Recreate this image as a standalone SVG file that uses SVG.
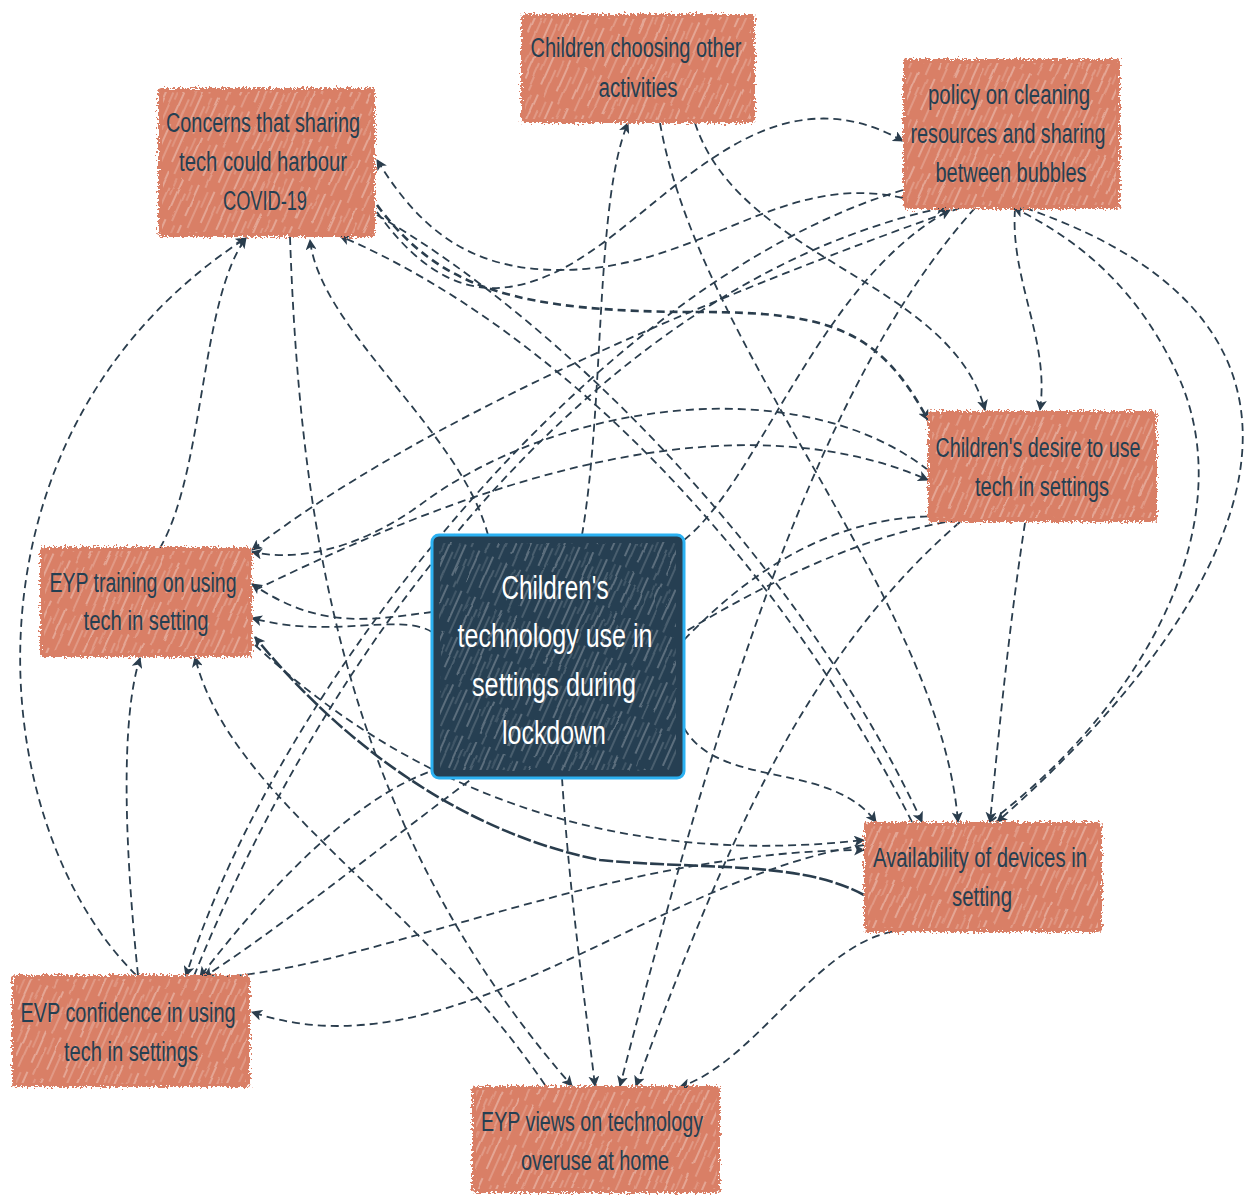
<svg xmlns="http://www.w3.org/2000/svg" width="1250" height="1195" viewBox="0 0 1250 1195">
<defs>
  <filter id="rough" x="-5%" y="-5%" width="110%" height="110%">
    <feTurbulence type="fractalNoise" baseFrequency="0.45" numOctaves="2" seed="4" result="n"/>
    <feDisplacementMap in="SourceGraphic" in2="n" scale="9" xChannelSelector="R" yChannelSelector="G"/>
  </filter>
  <filter id="wob" x="-5%" y="-5%" width="110%" height="110%">
    <feTurbulence type="fractalNoise" baseFrequency="0.04" numOctaves="1" seed="7" result="n"/>
    <feDisplacementMap in="SourceGraphic" in2="n" scale="4" xChannelSelector="R" yChannelSelector="G"/>
  </filter>
  <pattern id="hatchO" width="17" height="44" patternUnits="userSpaceOnUse" patternTransform="rotate(24)">
    <line x1="2" y1="0" x2="2" y2="34" stroke="#ffffff" stroke-opacity="0.6" stroke-width="1"/>
    <line x1="9" y1="14" x2="9" y2="44" stroke="#ffffff" stroke-opacity="0.45" stroke-width="0.9"/>
    <line x1="13" y1="3" x2="13" y2="20" stroke="#ffffff" stroke-opacity="0.4" stroke-width="0.8"/>
  </pattern>
  <pattern id="hatchD" width="15" height="44" patternUnits="userSpaceOnUse" patternTransform="rotate(24)">
    <line x1="2" y1="0" x2="2" y2="34" stroke="#ffffff" stroke-opacity="0.55" stroke-width="0.9"/>
    <line x1="8" y1="12" x2="8" y2="44" stroke="#ffffff" stroke-opacity="0.4" stroke-width="0.8"/>
    <line x1="12" y1="2" x2="12" y2="18" stroke="#ffffff" stroke-opacity="0.35" stroke-width="0.7"/>
  </pattern>
  <marker id="ah" viewBox="0 0 10 10" refX="9" refY="5" markerWidth="11" markerHeight="11" markerUnits="userSpaceOnUse" orient="auto">
    <path d="M0,0 L10,5 L0,10 L2.5,5 z" fill="#2a3d4d"/>
  </marker>
  <style>
    .e{fill:none;stroke:#2a3d4d;stroke-width:1.8;stroke-dasharray:8 5;marker-end:url(#ah)}
    .thick{stroke-width:2.6}
    .box{fill:#d97f66}
    .hO{fill:url(#hatchO)}
    .t{font-family:"Liberation Sans",Arial,sans-serif;font-size:27px;fill:#253f52;text-anchor:middle}
    .tc{font-family:"Liberation Sans",Arial,sans-serif;font-size:33px;fill:#ffffff;text-anchor:middle}
  </style>
</defs>
<rect width="1250" height="1195" fill="#ffffff"/>

<g id="connectors">
  <path class="e" d="M136,975 C-20,820 -50,430 246,238"/>
  <path class="e" d="M160,548 C205,470 200,300 246,238"/>
  <path class="e" d="M488,535 C460,430 320,330 310,240"/>
  <path class="e" d="M290,237 C300,520 340,820 572,1086"/>
  <path class="e" d="M903,198 C780,170 700,270 560,270 C470,270 420,230 377,160"/>
  <path class="e" d="M377,212 C440,300 500,300 560,270 C660,220 760,60 903,141"/>
  <path class="e thick" d="M377,205 C440,290 520,312 700,312 C830,312 880,330 928,420"/>
  <path class="e" d="M377,215 C560,320 800,560 922,822"/>
  <path class="e" d="M912,822 C780,560 560,330 340,236"/>
  <path class="e" d="M582,535 C605,400 595,200 628,123"/>
  <path class="e" d="M660,123 C700,350 940,600 958,822"/>
  <path class="e" d="M695,123 C740,260 950,280 985,410"/>
  <path class="e" d="M1015,209 C1010,280 1050,340 1040,410"/>
  <path class="e" d="M1025,208 C1380,330 1250,600 997,822"/>
  <path class="e" d="M990,822 C1150,700 1240,520 1180,380 C1140,290 1080,240 1014,208"/>
  <path class="e" d="M1025,523 C1010,620 1000,720 990,822"/>
  <path class="e" d="M684,728 C720,790 830,760 876,822"/>
  <path class="e" d="M194,976 C330,640 600,280 946,207"/>
  <path class="e" d="M903,190 C600,280 280,680 186,976"/>
  <path class="e" d="M960,208 C700,300 420,420 252,550"/>
  <path class="e" d="M928,470 C800,370 560,400 420,505 C350,555 290,560 252,552"/>
  <path class="e" d="M255,590 C400,520 700,380 928,480"/>
  <path class="e" d="M432,612 C370,620 320,630 252,584"/>
  <path class="e" d="M432,632 C400,612 330,640 252,618"/>
  <path class="e thick" style="stroke-dasharray:14 3" d="M864,895 C800,860 700,870 600,860 C450,830 330,730 255,637"/>
  <path class="e" d="M255,645 C400,780 600,870 864,840"/>
  <path class="e" d="M138,975 C125,850 120,720 140,658"/>
  <path class="e" d="M545,1085 C420,900 230,800 195,657"/>
  <path class="e" d="M562,778 C570,900 585,1000 595,1086"/>
  <path class="e" d="M975,208 C820,380 720,700 620,1086"/>
  <path class="e" d="M960,522 C800,660 720,860 636,1086"/>
  <path class="e" d="M905,930 C820,935 760,1060 680,1087"/>
  <path class="e" d="M440,768 C370,790 290,860 200,977"/>
  <path class="e" d="M864,845 C650,880 450,1080 252,1012"/>
  <path class="e" d="M195,978 C350,980 600,850 864,850"/>
  <path class="e" d="M958,520 C700,560 400,850 204,977"/>
  <path class="e" d="M684,640 C760,560 850,510 955,517"/>
  <path class="e" d="M684,540 C760,480 820,280 950,210"/>
</g>

<g id="n-concerns">
  <rect class="box" filter="url(#rough)" x="158" y="88" width="217" height="149" rx="4"/>
  <rect class="hO" filter="url(#wob)" x="162" y="92" width="209" height="141"/>
  <text class="t" x="263" y="132" textLength="194" lengthAdjust="spacingAndGlyphs">Concerns that sharing</text>
  <text class="t" x="263" y="171" textLength="168" lengthAdjust="spacingAndGlyphs">tech could harbour</text>
  <text class="t" x="265" y="210" textLength="84" lengthAdjust="spacingAndGlyphs">COVID-19</text>
</g>

<g id="n-choosing">
  <rect class="box" filter="url(#rough)" x="521" y="14" width="234" height="109" rx="4"/>
  <rect class="hO" filter="url(#wob)" x="525" y="18" width="226" height="101"/>
  <text class="t" x="636" y="57" textLength="211" lengthAdjust="spacingAndGlyphs">Children choosing other</text>
  <text class="t" x="638" y="97" textLength="79" lengthAdjust="spacingAndGlyphs">activities</text>
</g>

<g id="n-policy">
  <rect class="box" filter="url(#rough)" x="903" y="59" width="217" height="150" rx="4"/>
  <rect class="hO" filter="url(#wob)" x="907" y="63" width="209" height="142"/>
  <text class="t" x="1009" y="104" textLength="162" lengthAdjust="spacingAndGlyphs">policy on cleaning</text>
  <text class="t" x="1008" y="143" textLength="195" lengthAdjust="spacingAndGlyphs">resources and sharing</text>
  <text class="t" x="1011" y="182" textLength="151" lengthAdjust="spacingAndGlyphs">between bubbles</text>
</g>

<g id="n-desire">
  <rect class="box" filter="url(#rough)" x="928" y="411" width="229" height="111" rx="4"/>
  <rect class="hO" filter="url(#wob)" x="932" y="415" width="221" height="103"/>
  <text class="t" x="1038" y="457" textLength="205" lengthAdjust="spacingAndGlyphs">Children's desire to use</text>
  <text class="t" x="1042" y="496" textLength="134" lengthAdjust="spacingAndGlyphs">tech in settings</text>
</g>

<g id="n-training">
  <rect class="box" filter="url(#rough)" x="40" y="547" width="212" height="110" rx="4"/>
  <rect class="hO" filter="url(#wob)" x="44" y="551" width="204" height="102"/>
  <text class="t" x="143" y="592" textLength="187" lengthAdjust="spacingAndGlyphs">EYP training on using</text>
  <text class="t" x="146" y="630" textLength="125" lengthAdjust="spacingAndGlyphs">tech in setting</text>
</g>

<g id="n-center">
  <rect x="432" y="535" width="252" height="243" rx="7" fill="#263f52" stroke="#2bb1f2" stroke-width="3"/>
  <rect filter="url(#wob)" x="440" y="543" width="236" height="227" fill="url(#hatchD)"/>
  <text class="tc" x="555" y="599" textLength="107" lengthAdjust="spacingAndGlyphs">Children's</text>
  <text class="tc" x="555" y="647" textLength="195" lengthAdjust="spacingAndGlyphs">technology use in</text>
  <text class="tc" x="554" y="696" textLength="164" lengthAdjust="spacingAndGlyphs">settings during</text>
  <text class="tc" x="554" y="744" textLength="104" lengthAdjust="spacingAndGlyphs">lockdown</text>
</g>

<g id="n-availability">
  <rect class="box" filter="url(#rough)" x="864" y="822" width="238" height="110" rx="4"/>
  <rect class="hO" filter="url(#wob)" x="868" y="826" width="230" height="102"/>
  <text class="t" x="980" y="867" textLength="214" lengthAdjust="spacingAndGlyphs">Availability of devices in</text>
  <text class="t" x="982" y="906" textLength="60" lengthAdjust="spacingAndGlyphs">setting</text>
</g>

<g id="n-confidence">
  <rect class="box" filter="url(#rough)" x="12" y="975" width="238" height="112" rx="4"/>
  <rect class="hO" filter="url(#wob)" x="16" y="979" width="230" height="104"/>
  <text class="t" x="128" y="1022" textLength="215" lengthAdjust="spacingAndGlyphs">EVP confidence in using</text>
  <text class="t" x="131" y="1061" textLength="134" lengthAdjust="spacingAndGlyphs">tech in settings</text>
</g>

<g id="n-views">
  <rect class="box" filter="url(#rough)" x="472" y="1086" width="248" height="107" rx="4"/>
  <rect class="hO" filter="url(#wob)" x="476" y="1090" width="240" height="99"/>
  <text class="t" x="592" y="1131" textLength="222" lengthAdjust="spacingAndGlyphs">EYP views on technology</text>
  <text class="t" x="595" y="1170" textLength="148" lengthAdjust="spacingAndGlyphs">overuse at home</text>
</g>
</svg>
